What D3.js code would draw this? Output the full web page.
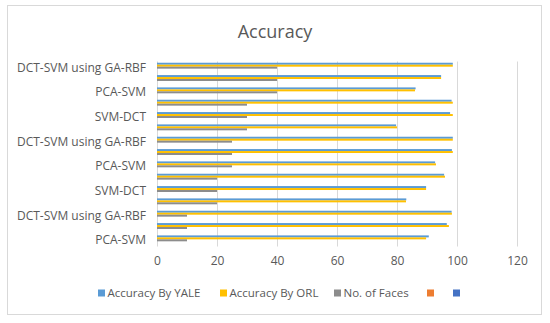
<!DOCTYPE html>
<html>
<head>
<meta charset="utf-8">
<script src="https://cdn.jsdelivr.net/npm/d3@7"></script>
<style>
  html, body { margin: 0; padding: 0; background: #fff; }
  svg text { font-family: "Open Sans", "Noto Sans", sans-serif; fill: #595959; }
</style>
</head>
<body>
<svg id="chart" width="550" height="323"></svg>
<script>
// ---- data (bottom to top) ----
const categories = [
  "PCA-SVM", "SVM-DCT", "DCT-SVM using GA-RBF",
  "PCA-SVM", "SVM-DCT", "DCT-SVM using GA-RBF",
  "PCA-SVM", "SVM-DCT", "DCT-SVM using GA-RBF",
  "PCA-SVM", "SVM-DCT", "DCT-SVM using GA-RBF",
  "PCA-SVM", "SVM-DCT", "DCT-SVM using GA-RBF"
];
const accuracyYale = [90.6, 96.6, 98.2, 83.1, 89.7, 95.7, 92.7, 98.3, 98.6, 79.7, 97.7, 98.2, 86.2, 94.7, 98.6];
const accuracyOrl  = [89.7, 97.3, 98.3, 83.0, 89.7, 96.0, 93.0, 98.6, 98.6, 80.0, 98.6, 98.6, 86.0, 94.7, 98.6];
const numFaces     = [10, 10, 10, 20, 20, 20, 25, 25, 25, 30, 30, 30, 40, 40, 40];
const emptySeries4 = [];
const emptySeries5 = [];
const seriesNames  = ["Accuracy By YALE", "Accuracy By ORL", "No. of Faces", "", ""];
const xTicks       = [0, 20, 40, 60, 80, 100, 120];
const title        = "Accuracy";

const seriesColors = ["#5B9BD5", "#FFC000", "#8C8C8C", "#ED7D31", "#4472C4"];
const seriesData = [accuracyYale, accuracyOrl, numFaces, emptySeries4, emptySeries5];

const svg = d3.select("#chart");

// outer frame
svg.append("rect")
  .attr("x", 7.5).attr("y", 5.5).attr("width", 534).attr("height", 309)
  .attr("fill", "#fff").attr("stroke", "#d9d9d9").attr("stroke-width", 1);

// title
svg.append("text")
  .attr("x", 275).attr("y", 38)
  .attr("text-anchor", "middle")
  .style("font-size", "18px")
  .text(title);

const plot = { left: 157, right: 517, top: 61.5, bottom: 246.5 };

const x = d3.scaleLinear().domain([xTicks[0], xTicks[xTicks.length - 1]])
  .range([plot.left, plot.right]);

const y0 = d3.scaleBand().domain(d3.range(categories.length))
  .range([plot.bottom, plot.top])
  .paddingInner(0.2).paddingOuter(0.1);

const y1 = d3.scaleBand().domain(d3.range(seriesNames.length))
  .range([0, y0.bandwidth()]);

// gridlines
svg.append("g").selectAll("line").data(xTicks).join("line")
  .attr("x1", d => Math.round(x(d)) + 0.5).attr("x2", d => Math.round(x(d)) + 0.5)
  .attr("y1", plot.top).attr("y2", plot.bottom)
  .attr("stroke", "#d9d9d9").attr("stroke-width", 1);

// x axis labels
const xAxis = d3.axisBottom(x).tickValues(xTicks).tickSize(0).tickPadding(0);
const gx = svg.append("g").attr("transform", `translate(0,${plot.bottom + 10})`).call(xAxis);
gx.select(".domain").remove();
gx.selectAll("text").attr("dy", "0.71em").style("font-size", "12px").style("fill", "#595959")
  .style("font-family", '"Open Sans", sans-serif');

// category labels (every other one, as in the reference)
const yAxis = d3.axisLeft(y0).tickSize(0).tickPadding(11)
  .tickValues(d3.range(0, categories.length, 2))
  .tickFormat(i => categories[i]);
const gy = svg.append("g").attr("transform", `translate(${plot.left},0)`).call(yAxis);
gy.select(".domain").remove();
gy.selectAll("text").style("font-size", "12px").style("fill", "#595959")
  .style("font-family", '"Open Sans", sans-serif');

// bars
const bars = svg.append("g");
seriesData.forEach((arr, s) => {
  bars.append("g").selectAll("rect").data(arr).join("rect")
    .attr("x", x(0))
    .attr("y", (d, i) => y0(i) + y1(s))
    .attr("width", d => x(d) - x(0))
    .attr("height", y1.bandwidth())
    .attr("fill", seriesColors[s]);
});

// legend
const legendX = [98, 220, 334, 427, 453];
const legend = svg.append("g").attr("transform", "translate(0,293)");
seriesNames.forEach((name, s) => {
  const g = legend.append("g").attr("transform", `translate(${legendX[s]},0)`);
  g.append("rect").attr("x", 0).attr("y", -3.5).attr("width", 7).attr("height", 7)
    .attr("fill", seriesColors[s]);
  if (name) {
    g.append("text").attr("x", 9.5).attr("y", 0).attr("dy", "0.35em")
      .style("font-size", "11.5px").text(name);
  }
});
</script>
</body>
</html>
